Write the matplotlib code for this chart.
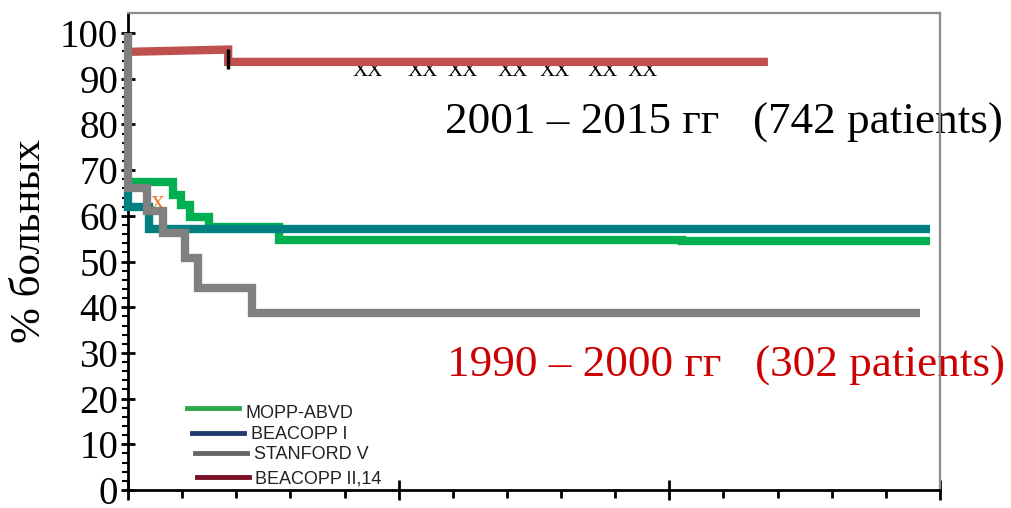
import matplotlib
matplotlib.use("Agg")
import matplotlib.pyplot as plt
from matplotlib.lines import Line2D

# survival curves (years, % of patients)
mopp_t = [0, 0.83, 0.98, 1.15, 1.5, 2.79, 10.23, 14.82]
mopp_s = [67.4, 64.5, 62.4, 59.7, 57.5, 54.7, 54.4, 54.4]

beacopp1_t = [0, 0, 0.39, 14.82]
beacopp1_s = [65.5, 62.0, 57.1, 57.1]

stanford_t = [0, 0, 0.35, 0.65, 1.05, 1.29, 2.29, 14.63]
stanford_s = [100, 66.0, 61.0, 56.2, 50.8, 44.2, 38.7, 38.7]

beacopp2_t = [0, 1.85, 1.85, 11.82]
beacopp2_s = [95.9, 96.4, 93.7, 93.7]
censor_t, censor_s = 1.85, 94.4

xx_t = [4.42, 5.45, 6.19, 7.11, 7.89, 8.77, 9.51]
xx_s = 90.6
orange_x = (0.55, 61.6)

legend_names = ["MOPP-ABVD", "BEACOPP I", "STANFORD V", "BEACOPP II,14"]
legend_colors = ["#2aa84a", "#1f3a6e", "#666666", "#7a1226"]

serif = "Liberation Serif"

fig = plt.figure(figsize=(10.11, 5.08), dpi=100)
ax = fig.add_axes([0.1266, 0.0354, 0.8032, 0.939])

lw = 6
ax.step(mopp_t, mopp_s, where="post", color="#00b050", lw=lw,
        solid_joinstyle="miter", solid_capstyle="butt", zorder=3, clip_on=False)
ax.step(beacopp1_t, beacopp1_s, where="post", color="#008080", lw=lw,
        solid_joinstyle="miter", solid_capstyle="butt", zorder=3.1, clip_on=False)
ax.plot(beacopp2_t, beacopp2_s, color="#c0504d", lw=lw,
        solid_joinstyle="miter", solid_capstyle="butt", zorder=3.1, clip_on=False)
ax.step(stanford_t, stanford_s, where="post", color="#808080", lw=lw,
        solid_joinstyle="miter", solid_capstyle="butt", zorder=3.2, clip_on=False)
ax.plot([censor_t], [censor_s], marker="|", ms=14, mew=2.5, color="black", zorder=3.3)

for t in xx_t:
    ax.text(t, xx_s, "XX", family=serif, fontsize=15, ha="center", va="baseline",
            color="black", zorder=2)
ax.text(orange_x[0], orange_x[1], "x", family=serif, fontsize=20, ha="center",
        va="baseline", color="#ed7d31", zorder=2)

# period captions
ax.text(0.3904, 0.747, "2001 – 2015 гг   (742 patients)", transform=ax.transAxes,
        family=serif, fontsize=32.5, color="black", zorder=1)
ax.text(0.3929, 0.237, "1990 – 2000 гг   (302 patients)", transform=ax.transAxes,
        family=serif, fontsize=32.5, color="#cc0000", zorder=1)

# hand-placed legend
leg_line_y = [0.172, 0.119, 0.078, 0.027]
leg_text_y = [0.161, 0.117, 0.075, 0.024]
leg_x0 = [0.073, 0.079, 0.083, 0.085]
for name, col, ly, ty, x0 in zip(legend_names, legend_colors, leg_line_y, leg_text_y, leg_x0):
    ax.add_line(Line2D([x0, x0 + 0.064], [ly, ly], color=col, lw=3.5,
                       transform=ax.transAxes, clip_on=False))
    ax.text(x0 + 0.072, ty, name, transform=ax.transAxes, family="Liberation Sans",
            fontsize=13, va="center", ha="left", color="#222222")

ax.set_xlim(0, 15)
ax.set_ylim(0, 104.4)
ax.set_xticks([0, 5, 10, 15])
ax.set_xticks(range(0, 16), minor=True)
ax.set_yticks(range(0, 101, 10))
ax.set_yticks(range(0, 101, 2), minor=True)
ax.set_xticklabels([])
ax.set_yticklabels([str(v) for v in range(0, 101, 10)], family=serif, fontsize=28)
ax.tick_params(axis="x", which="major", direction="inout", length=14, width=2)
ax.tick_params(axis="x", which="minor", direction="out", length=6, width=2)
ax.tick_params(axis="y", which="major", direction="inout", length=10, width=2, pad=2)
ax.tick_params(axis="y", which="minor", direction="out", length=4, width=1.5)
ax.set_ylabel("% больных", family=serif, fontsize=31)
ax.yaxis.set_label_coords(-0.097, 0.522)

for side in ["left", "bottom"]:
    ax.spines[side].set_linewidth(2)
    ax.spines[side].set_color("black")
for side in ["top", "right"]:
    ax.spines[side].set_linewidth(1.6)
    ax.spines[side].set_color("#8c8c8c")

fig.savefig("out.png", dpi=100)
